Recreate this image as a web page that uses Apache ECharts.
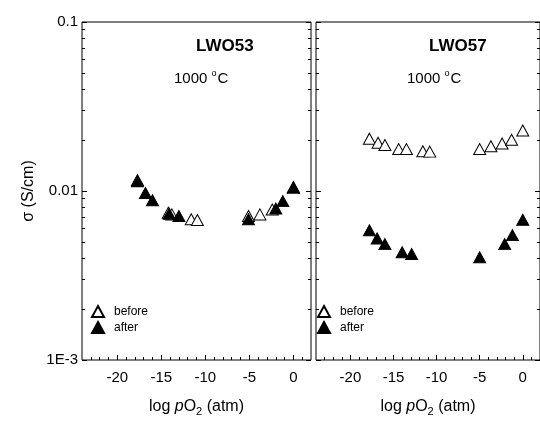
<!DOCTYPE html>
<html>
<head>
<meta charset="utf-8">
<script src="https://cdn.jsdelivr.net/npm/echarts@6/dist/echarts.min.js"></script>
<style>
  html, body { margin: 0; padding: 0; background: #fff; }
  #chart { width: 540px; height: 422px; }
</style>
</head>
<body>
<div id="chart"></div>
<script>
// LWO53 (左图)
const lwo53BeforeX = [-17.7, -14.2, -13.8, -11.6, -10.9, -5.1, -3.8, -2.4, 0.0];
const lwo53BeforeY = [0.0116, 0.00743, 0.00727, 0.00680, 0.00674, 0.00711, 0.00727, 0.00777, 0.0104];
const lwo53AfterX = [-17.7, -16.8, -16.0, -14.1, -13.0, -5.1, -2.0, -1.2, 0.0];
const lwo53AfterY = [0.0114, 0.00973, 0.00882, 0.00734, 0.00711, 0.00680, 0.00788, 0.00871, 0.01055];
// LWO57 (右图)
const lwo57BeforeX = [-17.8, -16.8, -16.0, -14.4, -13.5, -11.6, -10.8, -5.0, -3.7, -2.4, -1.3, 0.0];
const lwo57BeforeY = [0.0204, 0.0193, 0.0187, 0.0177, 0.0177, 0.0172, 0.0171, 0.0177, 0.0184, 0.0191, 0.0201, 0.0228];
const lwo57AfterX = [-17.8, -16.9, -16.0, -14.0, -12.9, -5.0, -2.1, -1.2, 0.0];
const lwo57AfterY = [0.00586, 0.00524, 0.00485, 0.00434, 0.00424, 0.00405, 0.00485, 0.00548, 0.00676];

// 刻度
const xMajorTicks = [-20, -15, -10, -5, 0];
const xMinorTicks = [-23, -22, -21, -19, -18, -17, -16, -14, -13, -12, -11, -9, -8, -7, -6, -4, -3, -2, -1, 1];
const yMajorTicks = [0.001, 0.01, 0.1];
const yMinorTicks = [0.002, 0.003, 0.004, 0.005, 0.006, 0.007, 0.008, 0.009,
  0.02, 0.03, 0.04, 0.05, 0.06, 0.07, 0.08, 0.09];
const yLabelMap = { '0.001': '1E-3', '0.01': '0.01', '0.1': '0.1' };

const panels = ['LWO53', 'LWO57'];
const FONT = 'Liberation Sans, Arial, sans-serif';

const zip = (xs, ys) => xs.map((x, i) => [x, ys[i]]);

const chart = echarts.init(document.getElementById('chart'), null, { renderer: 'canvas' });

const grids = [
  { left: 82, top: 22, width: 229, height: 342 },
  { left: 316, top: 22, width: 227, height: 342 }
].map(g => Object.assign(g, { show: true, borderColor: '#000', borderWidth: 1, backgroundColor: 'transparent' }));

const xAxes = [];
const yAxes = [];
for (let i = 0; i < 2; i++) {
  // 主刻度 + 标签
  xAxes.push({
    gridIndex: i, type: 'value', min: -24, max: 2, position: 'bottom',
    name: '{a|log }{i|p}{a|O}{s|2}{a| (atm)}', nameLocation: 'middle', nameGap: 36,
    nameTextStyle: {
      rich: {
        a: { fontFamily: FONT, fontSize: 16, color: '#000' },
        i: { fontFamily: FONT, fontSize: 16, color: '#000', fontStyle: 'italic' },
        s: { fontFamily: FONT, fontSize: 11, color: '#000', padding: [10, 0, 0, 0] }
      }
    },
    axisLine: { show: false, onZero: false },
    axisTick: { show: true, inside: true, length: 5, customValues: xMajorTicks, lineStyle: { color: '#000' } },
    axisLabel: { customValues: xMajorTicks, fontFamily: FONT, fontSize: 15, color: '#000', margin: 10 },
    splitLine: { show: false }
  });
  // 次刻度
  xAxes.push({
    gridIndex: i, type: 'value', min: -24, max: 2, position: 'bottom',
    axisLine: { show: false, onZero: false },
    axisTick: { show: true, inside: true, length: 3, customValues: xMinorTicks, lineStyle: { color: '#000' } },
    axisLabel: { show: false },
    splitLine: { show: false }
  });
  ['left', 'right'].forEach(pos => {
    const showLabel = i === 0 && pos === 'left';
    yAxes.push({
      gridIndex: i, type: 'log', min: 0.001, max: 0.1, position: pos,
      name: showLabel ? 'σ (S/cm)' : '', nameLocation: 'middle', nameGap: 45,
      nameTextStyle: { fontFamily: FONT, fontSize: 16, color: '#000' },
      axisLine: { show: false, onZero: false },
      axisTick: { show: true, inside: true, length: 5, customValues: yMajorTicks, lineStyle: { color: '#000' } },
      axisLabel: {
        show: showLabel, customValues: yMajorTicks, fontFamily: FONT, fontSize: 15, color: '#000', margin: 4,
        formatter: v => yLabelMap[String(+v.toPrecision(3))] || String(v)
      },
      splitLine: { show: false }
    });
    yAxes.push({
      gridIndex: i, type: 'log', min: 0.001, max: 0.1, position: pos,
      axisLine: { show: false, onZero: false },
      axisTick: { show: true, inside: true, length: 3, customValues: yMinorTicks, lineStyle: { color: '#000' } },
      axisLabel: { show: false },
      splitLine: { show: false }
    });
  });
}

const series = [];
const seriesData = [
  [zip(lwo53BeforeX, lwo53BeforeY), zip(lwo53AfterX, lwo53AfterY)],
  [zip(lwo57BeforeX, lwo57BeforeY), zip(lwo57AfterX, lwo57AfterY)]
];
for (let i = 0; i < 2; i++) {
  series.push({
    name: 'before', type: 'scatter', xAxisIndex: i * 2, yAxisIndex: i * 4,
    symbol: 'triangle', symbolSize: [12, 11],
    itemStyle: { color: '#fff', borderColor: '#000', borderWidth: 1, opacity: 1 },
    data: seriesData[i][0]
  });
  series.push({
    name: 'after', type: 'scatter', xAxisIndex: i * 2, yAxisIndex: i * 4,
    symbol: 'triangle', symbolSize: [12, 11],
    itemStyle: { color: '#000', borderColor: '#000', borderWidth: 1, opacity: 1 },
    data: seriesData[i][1]
  });
}

const legends = [91, 317].map(l => ({
  left: l, top: 305, padding: 0, orient: 'vertical', itemGap: 3,
  itemWidth: 12, itemHeight: 11, icon: 'triangle',
  selectedMode: false,
  textStyle: { fontFamily: FONT, fontSize: 12, color: '#000', padding: [0, 0, 0, 5] },
  data: ['before', 'after']
}));

// 标题文字
const graphic = [];
[196, 429].forEach((cx, i) => {
  graphic.push({
    type: 'text', left: cx, top: 38,
    style: { text: panels[i], fontFamily: FONT, fontSize: 17, fontWeight: 'bold', fill: '#000', textAlign: 'center' }
  });
  graphic.push({
    type: 'text', left: cx - 22, top: 69,
    style: {
      text: '{n|1000 }{d|o}{n|C}', fill: '#000',
      rich: {
        n: { fontFamily: FONT, fontSize: 15, fill: '#000' },
        d: { fontFamily: FONT, fontSize: 9, fill: '#000', padding: [0, 1, 10, 0] }
      }
    }
  });
});

chart.setOption({
  backgroundColor: '#fff',
  animation: false,
  grid: grids,
  xAxis: xAxes,
  yAxis: yAxes,
  legend: legends,
  graphic: graphic,
  series: series
});
</script>
</body>
</html>
